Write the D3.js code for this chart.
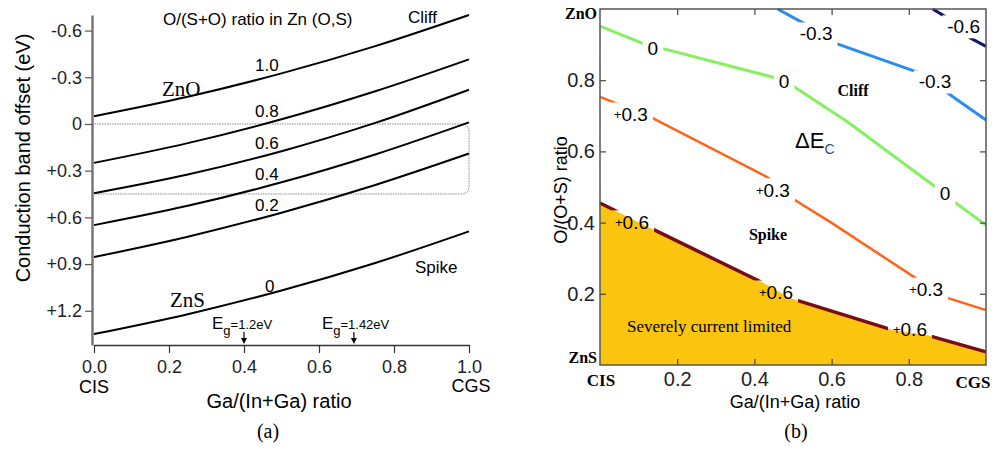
<!DOCTYPE html>
<html>
<head>
<meta charset="utf-8">
<script src="https://cdnjs.cloudflare.com/ajax/libs/d3/7.8.5/d3.min.js"></script>
<style>
    body { margin: 0; background: #fff; }
    svg { display: block; }
    text { font-family: "Liberation Sans", Arial, sans-serif; }
    .serif { font-family: "Liberation Serif", "Times New Roman", serif; }
</style>
</head>
<body>
<div id="chart"></div>
<script>
// ---- panel (a) data: conduction band offset vs Ga/(In+Ga) ----
var gaPoints = [0, 0.25, 0.5, 0.75, 1.0];
var oxRatios = ["1.0", "0.8", "0.6", "0.4", "0.2", "0"];
var cbo10 = [-0.05, -0.175, -0.325, -0.50, -0.70];
var cbo08 = [0.25, 0.123, -0.03, -0.21, -0.415];
var cbo06 = [0.445, 0.325, 0.175, -0.007, -0.22];
var cbo04 = [0.65, 0.526, 0.375, 0.196, -0.01];
var cbo02 = [0.855, 0.724, 0.57, 0.392, 0.19];
var cbo00 = [1.35, 1.222, 1.07, 0.893, 0.69];
var gaTicks = [0, 0.2, 0.4, 0.6, 0.8, 1.0];
var cboTicks = [-0.6, -0.3, 0, 0.3, 0.6, 0.9, 1.2];
var egGa = [0.4, 0.693];
var egValues = ["=1.2eV", "=1.42eV"];

// ---- panel (b) data: contour lines of delta Ec, [Ga ratio, O ratio] ----
var levels = ["-0.6", "-0.3", "0", "+0.3", "+0.6"];
var contourM06 = [[0.862, 1.0], [0.90, 0.975], [0.96, 0.918], [1.0, 0.895]];
var contourM03 = [[0.46, 1.0], [0.526, 0.961], [0.609, 0.904], [0.837, 0.817], [0.915, 0.753], [1.0, 0.688]];
var contour00 = [[0, 0.952], [0.109, 0.904], [0.166, 0.888], [0.446, 0.809], [0.50, 0.784], [0.64, 0.684], [0.873, 0.497], [0.912, 0.463], [1.0, 0.393]];
var contourP03 = [[0, 0.753], [0.13, 0.697], [0.433, 0.528], [0.492, 0.472], [0.596, 0.402], [0.821, 0.242], [0.902, 0.188], [1.0, 0.154]];
var contourP06 = [[0, 0.455], [0.083, 0.41], [0.13, 0.385], [0.433, 0.225], [0.492, 0.188], [0.759, 0.098], [0.847, 0.084], [1.0, 0.037]];
var labelsM06 = [[0.942, 0.95]];
var labelsM03 = [[0.56, 0.93], [0.868, 0.795]];
var labels00 = [[0.137, 0.89], [0.477, 0.795], [0.894, 0.483]];
var labelsP03 = [[0.08, 0.705], [0.448, 0.492], [0.845, 0.213]];
var labelsP06 = [[0.083, 0.402], [0.456, 0.205], [0.803, 0.101]];
var ratioTicks = [0.2, 0.4, 0.6, 0.8];

var w = 995, h = 449;
var svg = d3.select("#chart").append("svg").attr("width", w).attr("height", h);

// ================= panel (a) =================
var xL = d3.scaleLinear().domain([0, 1]).range([94, 469]);
var yL = d3.scaleLinear().domain([-0.70, 1.42]).range([15, 345]);

function signFmt(d) {
    if (d < 0) return "-" + Math.abs(d).toFixed(1);
    if (d > 0) return "+" + d.toFixed(1);
    return "0";
}

// dotted box marking 0 .. +0.45 eV window
var bx0 = 92, bx1 = xL(1), by0 = yL(0), by1 = yL(0.45), r = 8;
svg.append("path")
    .attr("d", "M" + bx0 + "," + by0 + "H" + (bx1 - r) + "Q" + bx1 + "," + by0 + " " + bx1 + "," + (by0 + r) +
        "V" + (by1 - r) + "Q" + bx1 + "," + by1 + " " + (bx1 - r) + "," + by1 + "H" + (bx0 + 5) +
        "Q" + (bx0 + 1) + "," + by1 + " " + (bx0 + 1) + "," + (by1 - 4))
    .attr("fill", "none")
    .attr("stroke", "#8a8a8a")
    .attr("stroke-width", 1)
    .attr("stroke-dasharray", "1.5,1");

var yAxisL = svg.append("g")
    .attr("transform", "translate(92,0)")
    .call(d3.axisLeft(yL).tickValues(cboTicks).tickSize(7).tickSizeOuter(0).tickPadding(3).tickFormat(signFmt));
yAxisL.select(".domain").attr("stroke", "#777").attr("stroke-width", 2.5);
yAxisL.selectAll(".tick line").attr("stroke", "#555").attr("stroke-width", 1.2);
yAxisL.selectAll(".tick text").attr("font-size", 18).attr("fill", "#222")
    .attr("font-family", "Liberation Sans, Arial, sans-serif");

var xAxisL = svg.append("g")
    .attr("transform", "translate(0,345)")
    .call(d3.axisBottom(xL).tickValues(gaTicks).tickSize(8).tickSizeOuter(0).tickPadding(7).tickFormat(d3.format(".1f")));
xAxisL.select(".domain").attr("stroke", "#333").attr("stroke-width", 1.5);
xAxisL.selectAll(".tick line").attr("stroke", "#333").attr("stroke-width", 1.2);
xAxisL.selectAll(".tick text").attr("font-size", 18).attr("fill", "#222")
    .attr("font-family", "Liberation Sans, Arial, sans-serif");

// band offset curves
var series = [cbo10, cbo08, cbo06, cbo04, cbo02, cbo00];
var lineL = d3.line()
    .x(function(d, i) { return xL(gaPoints[i]); })
    .y(function(d) { return yL(d); })
    .curve(d3.curveCatmullRom);
svg.selectAll(".cbo")
    .data(series)
    .enter()
    .append("path")
    .attr("class", "cbo")
    .attr("d", lineL)
    .attr("fill", "none")
    .attr("stroke", "#000")
    .attr("stroke-width", 2);

// curve labels
svg.selectAll(".cboLabel")
    .data(series)
    .enter()
    .append("text")
    .attr("x", function(d, i) { return i == 5 ? 265 : 255; })
    .attr("y", function(d, i) { return i == 5 ? yL(d[2]) + 1 : yL(d[2]) - 2; })
    .attr("font-size", 17)
    .text(function(d, i) { return oxRatios[i]; });

svg.append("text").attr("x", 163).attr("y", 25).attr("font-size", 17).text("O/(S+O) ratio in Zn (O,S)");
svg.append("text").attr("x", 408).attr("y", 23).attr("font-size", 17).text("Cliff");
svg.append("text").attr("x", 415).attr("y", 273).attr("font-size", 17).text("Spike");
svg.append("text").attr("class", "serif").attr("x", 162).attr("y", 96).attr("font-size", 21).text("ZnO");
svg.append("text").attr("class", "serif").attr("x", 170).attr("y", 307).attr("font-size", 21).text("ZnS");

// band gap markers
egGa.forEach(function(g, i) {
    var x = xL(g);
    var t = svg.append("text").attr("x", x - 32).attr("y", 329).attr("font-size", 17);
    t.append("tspan").text("E");
    t.append("tspan").attr("font-size", 13).attr("dy", 6).text("g");
    t.append("tspan").attr("font-size", 13).attr("dy", -6).text(egValues[i]);
    svg.append("line")
        .attr("x1", x).attr("x2", x).attr("y1", 332).attr("y2", 339)
        .attr("stroke", "#000").attr("stroke-width", 1.2);
    svg.append("path")
        .attr("d", "M" + (x - 3) + ",338L" + (x + 3) + ",338L" + x + ",344Z")
        .attr("fill", "#000");
});

svg.append("text").attr("x", xL(0)).attr("y", 393).attr("text-anchor", "middle").attr("font-size", 18).text("CIS");
svg.append("text").attr("x", xL(1) + 2).attr("y", 392).attr("text-anchor", "middle").attr("font-size", 18).text("CGS");
svg.append("text").attr("x", 279).attr("y", 408).attr("text-anchor", "middle").attr("font-size", 20).text("Ga/(In+Ga) ratio");
svg.append("text").attr("transform", "translate(30,158) rotate(-90)").attr("text-anchor", "middle")
    .attr("font-size", 20).text("Conduction band offset (eV)");
svg.append("text").attr("class", "serif").attr("x", 268).attr("y", 438).attr("text-anchor", "middle")
    .attr("font-size", 20).text("(a)");

// ================= panel (b) =================
var xR = d3.scaleLinear().domain([0, 1]).range([600, 986]);
var yR = d3.scaleLinear().domain([0, 1]).range([365, 9]);

// current-limited region under the +0.6 contour
svg.append("path")
    .datum(contourP06)
    .attr("d", d3.area()
        .x(function(d) { return xR(d[0]); })
        .y0(yR(0))
        .y1(function(d) { return yR(d[1]); }))
    .attr("fill", "#fbc40f");

var contours = [
    { pts: contourM06, labels: labelsM06, color: "#16166e", width: 3 },
    { pts: contourM03, labels: labelsM03, color: "#2a8cf0", width: 3 },
    { pts: contour00, labels: labels00, color: "#86f060", width: 3 },
    { pts: contourP03, labels: labelsP03, color: "#ff6418", width: 2.5 },
    { pts: contourP06, labels: labelsP06, color: "#7a0c16", width: 3.5 }
];

// contour labels; their boxes cut gaps in the lines through a mask
var mask = svg.append("defs").append("mask").attr("id", "gaps").attr("maskUnits", "userSpaceOnUse");
mask.append("rect").attr("x", 0).attr("y", 0).attr("width", w).attr("height", h).attr("fill", "#fff");

var lineR = d3.line()
    .x(function(d) { return xR(d[0]); })
    .y(function(d) { return yR(d[1]); });
var lineGroup = svg.append("g").attr("mask", "url(#gaps)");
var labelGroup = svg.append("g");

contours.forEach(function(c, k) {
    lineGroup.append("path")
        .datum(c.pts)
        .attr("d", lineR)
        .attr("fill", "none")
        .attr("stroke", c.color)
        .attr("stroke-width", c.width)
        .attr("stroke-linejoin", "round");
    c.labels.forEach(function(p) {
        var t = labelGroup.append("text")
            .attr("x", xR(p[0]))
            .attr("y", yR(p[1]))
            .attr("text-anchor", "middle")
            .attr("dominant-baseline", "central")
            .attr("font-size", 19);
        var lev = levels[k];
        if (lev.charAt(0) == "+") {
            t.append("tspan").attr("font-size", 13).text("+");
            t.append("tspan").text(lev.slice(1));
        } else {
            t.text(lev);
        }
        var b = t.node().getBBox();
        mask.append("rect")
            .attr("x", b.x - 5).attr("y", b.y - 1)
            .attr("width", b.width + 10).attr("height", b.height + 2)
            .attr("fill", "#000");
    });
});

// ticks inside on all four sides
var axB = svg.append("g").attr("transform", "translate(0,365)")
    .call(d3.axisBottom(xR).tickValues(ratioTicks).tickSizeInner(-6).tickSizeOuter(0).tickPadding(7).tickFormat(d3.format(".1f")));
var axL = svg.append("g").attr("transform", "translate(600,0)")
    .call(d3.axisLeft(yR).tickValues(ratioTicks).tickSizeInner(-6).tickSizeOuter(0).tickPadding(5).tickFormat(d3.format(".1f")));
var axT = svg.append("g").attr("transform", "translate(0,9)")
    .call(d3.axisTop(xR).tickValues(ratioTicks).tickSizeInner(-6).tickSizeOuter(0).tickFormat(""));
var axR = svg.append("g").attr("transform", "translate(986,0)")
    .call(d3.axisRight(yR).tickValues(ratioTicks).tickSizeInner(-6).tickSizeOuter(0).tickFormat(""));
[axB, axL, axT, axR].forEach(function(a) {
    a.select(".domain").remove();
    a.selectAll(".tick line").attr("stroke", "#444").attr("stroke-width", 1.2);
    a.selectAll(".tick text").attr("font-size", 20).attr("fill", "#222")
        .attr("font-family", "Liberation Sans, Arial, sans-serif");
});

svg.append("rect")
    .attr("x", xR(0)).attr("y", yR(1))
    .attr("width", xR(1) - xR(0)).attr("height", yR(0) - yR(1))
    .attr("fill", "none").attr("stroke", "#555").attr("stroke-width", 1.5);

svg.append("text").attr("class", "serif").attr("x", 597).attr("y", 19).attr("text-anchor", "end")
    .attr("font-size", 16).attr("font-weight", "bold").text("ZnO");
svg.append("text").attr("class", "serif").attr("x", 597).attr("y", 363).attr("text-anchor", "end")
    .attr("font-size", 16).attr("font-weight", "bold").text("ZnS");
svg.append("text").attr("class", "serif").attr("x", 601).attr("y", 386).attr("text-anchor", "middle")
    .attr("font-size", 17).attr("font-weight", "bold").text("CIS");
svg.append("text").attr("class", "serif").attr("x", 973).attr("y", 388).attr("text-anchor", "middle")
    .attr("font-size", 17).attr("font-weight", "bold").text("CGS");
svg.append("text").attr("class", "serif").attr("x", 853).attr("y", 96).attr("text-anchor", "middle")
    .attr("font-size", 16).attr("font-weight", "bold").text("Cliff");
svg.append("text").attr("class", "serif").attr("x", 768).attr("y", 240).attr("text-anchor", "middle")
    .attr("font-size", 16).attr("font-weight", "bold").text("Spike");
svg.append("text").attr("class", "serif").attr("x", 627).attr("y", 332)
    .attr("font-size", 17).text("Severely current limited");

var dE = svg.append("text").attr("x", 795).attr("y", 148).attr("font-size", 22);
dE.append("tspan").text("ΔE");
dE.append("tspan").attr("font-size", 14).attr("dy", 6).attr("fill", "#1f4e9c").text("C");

svg.append("text").attr("x", 795).attr("y", 408).attr("text-anchor", "middle").attr("font-size", 18).text("Ga/(In+Ga) ratio");
svg.append("text").attr("transform", "translate(567,190) rotate(-90)").attr("text-anchor", "middle")
    .attr("font-size", 18).text("O/(O+S) ratio");
svg.append("text").attr("class", "serif").attr("x", 796).attr("y", 438).attr("text-anchor", "middle")
    .attr("font-size", 20).text("(b)");
</script>
</body>
</html>
